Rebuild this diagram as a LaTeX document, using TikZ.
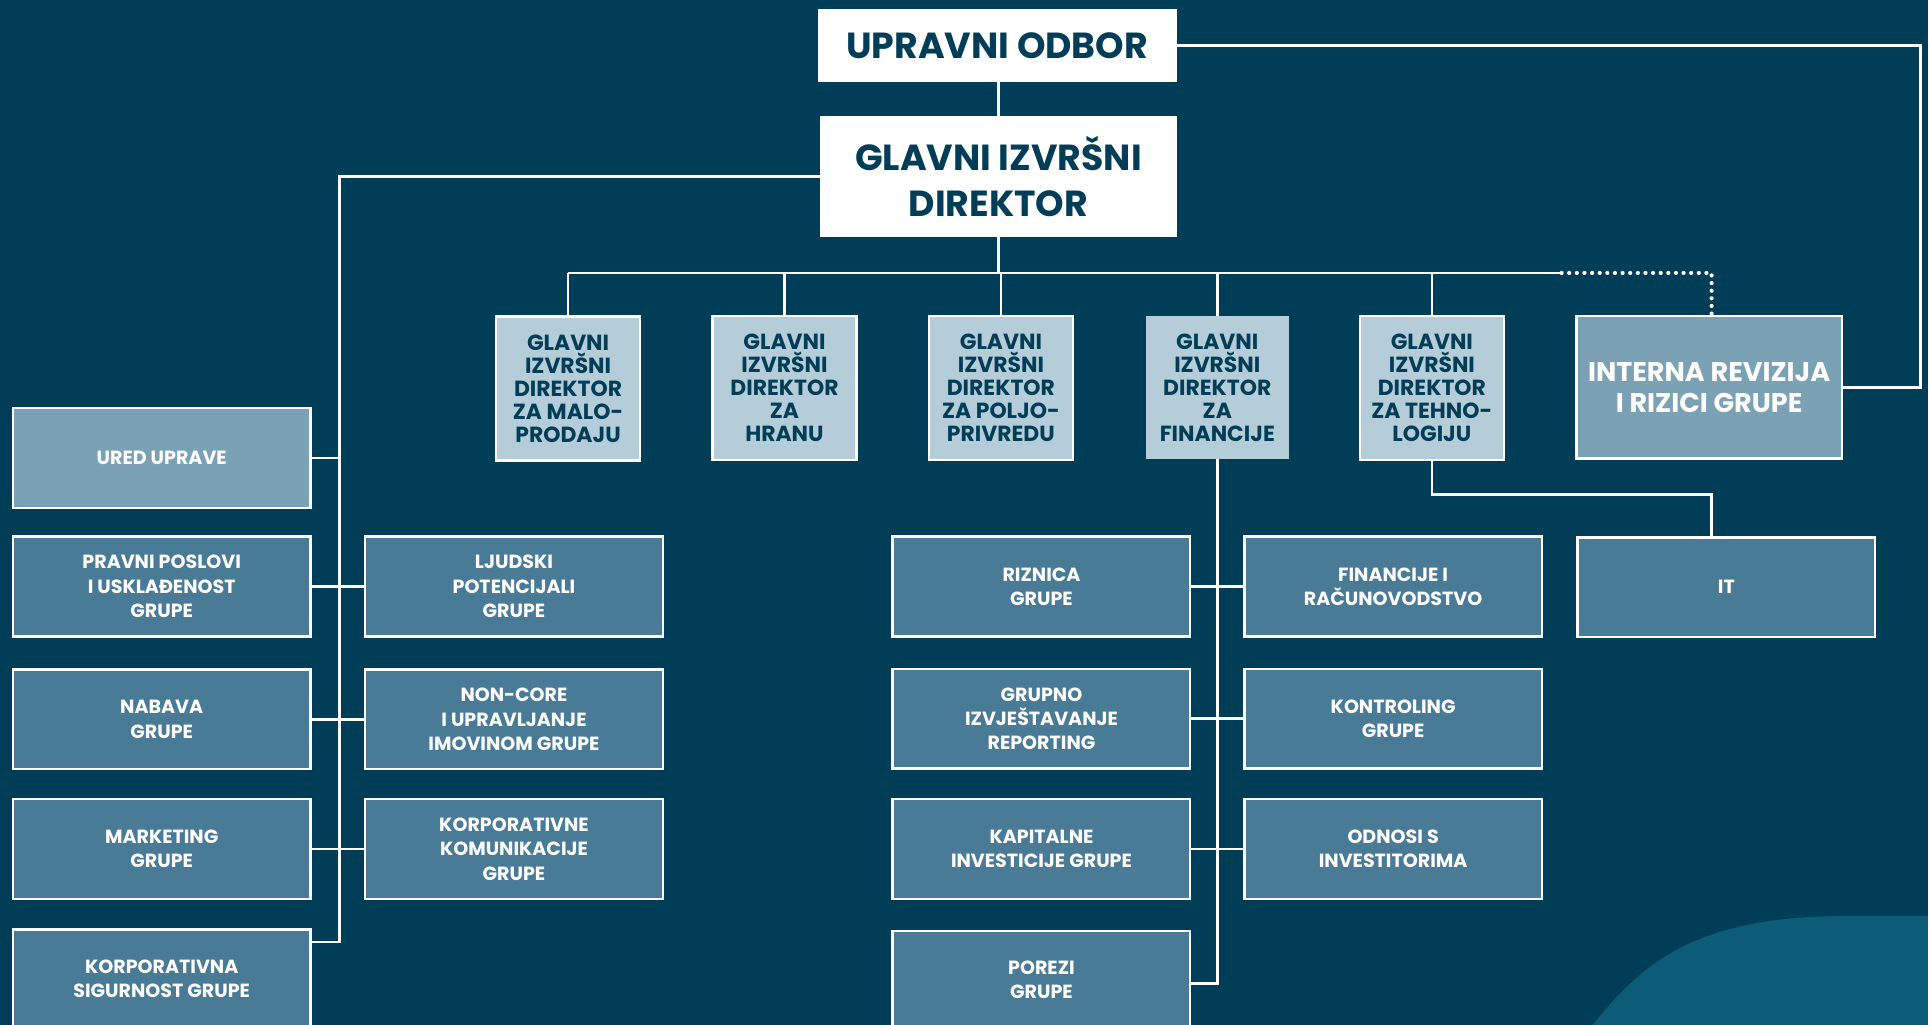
\documentclass[tikz,border=0pt]{standalone}
\usepackage{fontspec}
\setmainfont{Poppins}
\definecolor{bgc}{HTML}{003D57}
\definecolor{lightc}{HTML}{B5CDD8}
\definecolor{midc}{HTML}{7BA1B5}
\definecolor{deptc}{HTML}{4A7B96}
\definecolor{wavec}{HTML}{0C5C77}
\tikzset{
  base/.style={rectangle, align=center, inner sep=2pt, outer sep=0pt},
  topbox/.style={base, fill=white, text=bgc, font=\bfseries\fontsize{29.5}{37}\selectfont},
  lvbox/.style={base, fill=lightc, draw=white, line width=2pt, text=bgc, minimum width=117pt, minimum height=117pt, font=\bfseries\fontsize{17.8}{18.7}\selectfont},
  revbox/.style={base, fill=midc, draw=white, line width=2pt, text=white, minimum width=216pt, minimum height=116pt, font=\bfseries\fontsize{22}{25}\selectfont},
  dept/.style={base, fill=deptc, draw=white, line width=2pt, text=white, minimum width=242pt, minimum height=81pt, font=\bfseries\fontsize{15.5}{19.8}\selectfont},
  conn/.style={draw=white, line width=2pt},
  dotconn/.style={draw=white, line width=3.4pt, line cap=round, dash pattern=on 0pt off 6.2pt}
}
\begin{document}
\begin{tikzpicture}[x=1pt,y=-1pt]
\useasboundingbox (0,0) rectangle (1568,833.6);
\clip (0,0) rectangle (1568,833.6);
\fill[bgc] (0,0) rectangle (1568,833.6);
% wave
\fill[wavec] (1290,840) .. controls (1330,790) and (1370,745) .. (1500,745) -- (1575,745) -- (1575,840) -- cycle;

% top
\node[topbox, minimum width=292pt, minimum height=60pt] (upr) at (811,37) {UPRAVNI ODBOR};
\node[topbox, minimum width=290pt, minimum height=99pt] (gid) at (812,143.5) {GLAVNI IZVRŠNI\\DIREKTOR};

% level 2
\node[lvbox] (mp) at (462,316) {GLAVNI\\IZVRŠNI\\DIREKTOR\\ZA MALO-\\PRODAJU};
\node[lvbox] (hr) at (638,315.5) {GLAVNI\\IZVRŠNI\\DIREKTOR\\ZA\\HRANU};
\node[lvbox] (pp) at (814,315.5) {GLAVNI\\IZVRŠNI\\DIREKTOR\\ZA POLJO-\\PRIVREDU};
\node[lvbox, draw=none, minimum width=116pt, minimum height=116pt] (fin) at (990,315) {GLAVNI\\IZVRŠNI\\DIREKTOR\\ZA\\FINANCIJE};
\node[lvbox] (teh) at (1164.5,315.5) {GLAVNI\\IZVRŠNI\\DIREKTOR\\ZA TEHNO-\\LOGIJU};
\node[revbox] (rev) at (1390,315) {INTERNA REVIZIJA\\I RIZICI GRUPE};

% left columns
\node[dept, fill=midc] (uu) at (131.5,372.5) {URED UPRAVE};
\node[dept] (pr) at (131.5,477) {PRAVNI POSLOVI\\I USKLAĐENOST\\GRUPE};
\node[dept] (nab) at (131.5,585) {NABAVA\\GRUPE};
\node[dept] (mar) at (131.5,690.5) {MARKETING\\GRUPE};
\node[dept, minimum height=90pt, text depth=10pt] (ks) at (131.5,801) {KORPORATIVNA\\SIGURNOST GRUPE};
\node[dept] (lj) at (418,477) {LJUDSKI\\POTENCIJALI\\GRUPE};
\node[dept] (nc) at (418,585) {NON-CORE\\I UPRAVLJANJE\\IMOVINOM GRUPE};
\node[dept] (kk) at (418,690.5) {KORPORATIVNE\\KOMUNIKACIJE\\GRUPE};

% finance columns
\node[dept] (riz) at (847,477) {RIZNICA\\GRUPE};
\node[dept] (grp) at (847,584.5) {GRUPNO\\IZVJEŠTAVANJE\\REPORTING};
\node[dept] (kap) at (847,690.5) {KAPITALNE\\INVESTICIJE GRUPE};
\node[dept, minimum height=90pt, text depth=10pt] (por) at (847,802) {POREZI\\GRUPE};
\node[dept] (fr) at (1133,477) {FINANCIJE I\\RAČUNOVODSTVO};
\node[dept] (kon) at (1133,584.5) {KONTROLING\\GRUPE};
\node[dept] (odn) at (1133,690.5) {ODNOSI S\\INVESTITORIMA};
\node[dept] (it) at (1404,477.5) {IT};

% coordinates
\coordinate (rr) at (1562,0);
\coordinate (lx) at (276,0);
\coordinate (hy) at (0,222);
\coordinate (dotstart) at (1270,222);
\coordinate (itx) at (1392,0);
\coordinate (ksc) at ([yshift=-10pt]ks.north east);
\coordinate (porc) at ([yshift=-43pt]por.north east);

% connectors
\draw[conn] (gid.north |- upr.south) -- (gid.north);
\draw[conn] (upr.east) -- (upr.east -| rr) -- (rev.east -| rr) -- (rev.east);
\draw[conn] (gid.south) -- (gid.south |- hy);
\draw[conn] (mp.north |- hy) -- (dotstart);
\draw[dotconn] (dotstart) -- (hy -| itx) -- (rev.north -| itx);
\foreach \n in {mp,hr,pp,fin,teh} \draw[conn] (\n.north |- hy) -- (\n.north);

\draw[conn] (gid.west) -- (gid.west -| lx) -- (ksc -| lx) -- (ksc);
\draw[conn] (uu.east) -- (uu.east -| lx);
\draw[conn] (pr.east) -- (lj.west);
\draw[conn] (nab.east) -- (nc.west);
\draw[conn] (mar.east) -- (kk.west);

\draw[conn] (fin.south) -- (fin.south |- porc) -- (porc);
\draw[conn] (riz.east) -- (fr.west);
\draw[conn] (grp.east) -- (kon.west);
\draw[conn] (kap.east) -- (odn.west);

\draw[conn] (teh.south) -- ++(0,28) -| (it.north -| itx);
\end{tikzpicture}
\end{document}
